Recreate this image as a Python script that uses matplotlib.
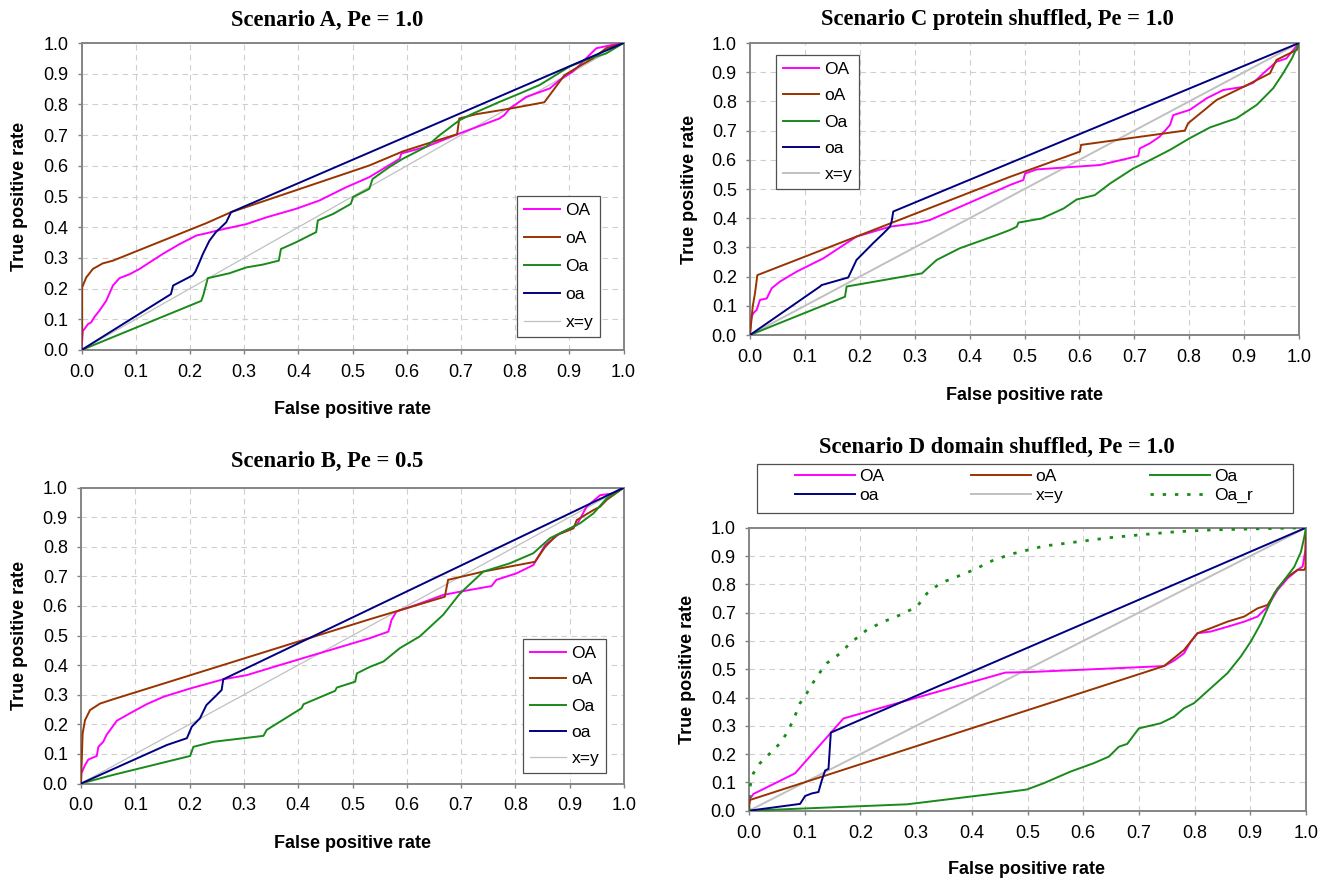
import matplotlib
matplotlib.use("Agg")
import matplotlib.pyplot as plt
from matplotlib.patches import Rectangle

# ---------------- data ----------------
A_OA_x = [0, 0.000, 0.0025, 0.0074, 0.0117, 0.0178, 0.024, 0.033, 0.0455, 0.058, 0.070, 0.089, 0.107, 0.150, 0.181, 0.212, 0.230, 0.255, 0.304, 0.341, 0.396, 0.439, 0.488, 0.531, 0.587, 0.590, 0.636, 0.697, 0.771, 0.780, 0.790, 0.820, 0.864, 0.882, 0.906, 0.919, 0.931, 0.950, 0.980, 1.0]
A_OA_y = [0, 0.002, 0.062, 0.073, 0.084, 0.090, 0.108, 0.128, 0.160, 0.210, 0.234, 0.247, 0.264, 0.313, 0.345, 0.373, 0.380, 0.391, 0.410, 0.432, 0.460, 0.487, 0.530, 0.563, 0.623, 0.640, 0.662, 0.705, 0.754, 0.765, 0.786, 0.824, 0.852, 0.879, 0.906, 0.928, 0.950, 0.983, 0.994, 1.0]
A_oA_x = [0, 0.0005, 0.0012, 0.0012, 0.0086, 0.021, 0.039, 0.058, 0.230, 0.276, 0.531, 0.593, 0.648, 0.693, 0.697, 0.728, 0.790, 0.854, 0.891, 0.922, 0.944, 0.968, 1.0]
A_oA_y = [0, 0.03, 0.062, 0.204, 0.236, 0.264, 0.282, 0.291, 0.413, 0.449, 0.601, 0.647, 0.678, 0.703, 0.754, 0.768, 0.786, 0.807, 0.895, 0.928, 0.950, 0.983, 1.0]
A_Oa_x = [0, 0.221, 0.225, 0.233, 0.273, 0.304, 0.334, 0.364, 0.368, 0.396, 0.433, 0.436, 0.464, 0.497, 0.501, 0.531, 0.534, 0.537, 0.568, 0.593, 0.636, 0.661, 0.697, 0.722, 0.771, 0.808, 0.845, 0.870, 0.900, 0.931, 0.968, 1.0]
A_Oa_y = [0, 0.160, 0.180, 0.234, 0.250, 0.269, 0.278, 0.291, 0.329, 0.351, 0.384, 0.422, 0.443, 0.476, 0.498, 0.525, 0.541, 0.557, 0.596, 0.623, 0.662, 0.700, 0.748, 0.770, 0.808, 0.835, 0.863, 0.890, 0.923, 0.945, 0.966, 1.0]
A_oa_x = [0, 0.165, 0.169, 0.205, 0.210, 0.216, 0.224, 0.236, 0.248, 0.267, 0.276, 1.0]
A_oa_y = [0, 0.182, 0.210, 0.243, 0.255, 0.279, 0.313, 0.356, 0.384, 0.416, 0.449, 1.0]

B_OA_x = [0, 0.0005, 0.0074, 0.0135, 0.029, 0.032, 0.041, 0.047, 0.066, 0.090, 0.121, 0.152, 0.201, 0.262, 0.305, 0.366, 0.428, 0.532, 0.566, 0.572, 0.581, 0.618, 0.667, 0.698, 0.756, 0.765, 0.802, 0.833, 0.855, 0.882, 0.913, 0.931, 0.956, 0.980, 1.0]
B_OA_y = [0, 0.034, 0.062, 0.081, 0.093, 0.124, 0.141, 0.164, 0.212, 0.237, 0.268, 0.293, 0.321, 0.352, 0.366, 0.400, 0.434, 0.491, 0.513, 0.553, 0.581, 0.604, 0.637, 0.648, 0.667, 0.688, 0.710, 0.738, 0.806, 0.845, 0.873, 0.935, 0.974, 0.980, 1.0]
B_oA_x = [0, 0.001, 0.003, 0.0074, 0.0166, 0.035, 0.060, 0.532, 0.670, 0.676, 0.741, 0.836, 0.855, 0.876, 0.907, 0.913, 0.944, 0.956, 0.968, 1.0]
B_oA_y = [0, 0.057, 0.169, 0.214, 0.248, 0.270, 0.285, 0.555, 0.631, 0.688, 0.716, 0.749, 0.800, 0.839, 0.862, 0.890, 0.924, 0.935, 0.958, 1.0]
B_Oa_x = [0, 0.059, 0.201, 0.207, 0.244, 0.336, 0.342, 0.406, 0.410, 0.468, 0.471, 0.505, 0.508, 0.532, 0.557, 0.587, 0.624, 0.667, 0.698, 0.741, 0.790, 0.833, 0.864, 0.895, 0.919, 0.944, 0.968, 1.0]
B_Oa_y = [0, 0.029, 0.093, 0.124, 0.141, 0.161, 0.181, 0.254, 0.268, 0.313, 0.324, 0.344, 0.372, 0.394, 0.412, 0.457, 0.497, 0.570, 0.642, 0.716, 0.744, 0.778, 0.829, 0.857, 0.879, 0.913, 0.963, 1.0]
B_oa_x = [0, 0.158, 0.195, 0.204, 0.219, 0.231, 0.250, 0.259, 0.262, 1.0]
B_oa_y = [0, 0.130, 0.153, 0.192, 0.220, 0.265, 0.299, 0.316, 0.352, 1.0]

C_OA_x = [0, 0.0012, 0.003, 0.0061, 0.0121, 0.0182, 0.0304, 0.0395, 0.0546, 0.085, 0.134, 0.194, 0.255, 0.304, 0.328, 0.474, 0.498, 0.501, 0.522, 0.637, 0.707, 0.710, 0.728, 0.746, 0.765, 0.771, 0.801, 0.832, 0.862, 0.899, 0.917, 0.935, 0.959, 0.977, 1.0]
C_OA_y = [0, 0.041, 0.063, 0.075, 0.086, 0.120, 0.125, 0.160, 0.183, 0.217, 0.263, 0.337, 0.371, 0.383, 0.394, 0.514, 0.531, 0.553, 0.567, 0.582, 0.613, 0.639, 0.656, 0.679, 0.719, 0.753, 0.771, 0.811, 0.839, 0.850, 0.864, 0.896, 0.936, 0.947, 1.0]
C_oA_x = [0, 0.0049, 0.0091, 0.0134, 0.474, 0.601, 0.603, 0.792, 0.798, 0.850, 0.899, 0.947, 0.959, 0.977, 0.996, 1.0]
C_oA_y = [0, 0.097, 0.143, 0.205, 0.542, 0.628, 0.651, 0.700, 0.725, 0.805, 0.850, 0.896, 0.942, 0.959, 0.976, 1.0]
C_Oa_x = [0, 0.173, 0.176, 0.313, 0.340, 0.382, 0.449, 0.474, 0.486, 0.489, 0.531, 0.571, 0.595, 0.628, 0.656, 0.698, 0.735, 0.765, 0.801, 0.838, 0.886, 0.923, 0.953, 0.971, 0.987, 1.0]
C_Oa_y = [0, 0.131, 0.166, 0.211, 0.257, 0.297, 0.342, 0.360, 0.371, 0.385, 0.399, 0.433, 0.464, 0.479, 0.519, 0.570, 0.605, 0.634, 0.674, 0.711, 0.742, 0.788, 0.845, 0.896, 0.947, 1.0]
C_oa_x = [0, 0.1275, 0.1305, 0.179, 0.194, 0.212, 0.224, 0.243, 0.255, 0.258, 0.261, 1.0]
C_oa_y = [0, 0.166, 0.171, 0.197, 0.257, 0.291, 0.314, 0.348, 0.371, 0.389, 0.423, 1.0]

D_OA_x = [0, 0.0005, 0.0078, 0.0827, 0.1696, 0.460, 0.505, 0.745, 0.763, 0.781, 0.793, 0.805, 0.829, 0.859, 0.889, 0.913, 0.931, 0.949, 0.967, 0.985, 0.994, 0.999, 1.0]
D_OA_y = [0, 0.038, 0.059, 0.132, 0.326, 0.488, 0.490, 0.511, 0.530, 0.556, 0.597, 0.627, 0.633, 0.650, 0.668, 0.686, 0.721, 0.780, 0.821, 0.851, 0.863, 0.922, 1.0]
D_oA_x = [0, 0.0005, 0.0018, 0.745, 0.781, 0.805, 0.829, 0.859, 0.889, 0.913, 0.931, 0.949, 0.967, 0.985, 0.997, 0.999, 1.0]
D_oA_y = [0, 0.020, 0.038, 0.511, 0.568, 0.627, 0.645, 0.668, 0.686, 0.715, 0.727, 0.786, 0.827, 0.851, 0.851, 0.860, 1.0]
D_Oa_x = [0, 0.284, 0.469, 0.499, 0.529, 0.577, 0.619, 0.646, 0.664, 0.679, 0.700, 0.739, 0.763, 0.781, 0.799, 0.829, 0.859, 0.883, 0.901, 0.919, 0.931, 0.943, 0.961, 0.979, 0.991, 0.997, 1.0]
D_Oa_y = [0, 0.0226, 0.067, 0.075, 0.097, 0.138, 0.168, 0.191, 0.226, 0.236, 0.291, 0.309, 0.332, 0.362, 0.380, 0.433, 0.486, 0.545, 0.598, 0.662, 0.715, 0.768, 0.815, 0.862, 0.915, 0.968, 1.0]
D_oa_x = [0, 0.0917, 0.1007, 0.1127, 0.1247, 0.1307, 0.1367, 0.1427, 0.1469, 1.0]
D_oa_y = [0, 0.024, 0.052, 0.061, 0.066, 0.107, 0.142, 0.148, 0.276, 1.0]
D_Oar_x = [0, 0.0018, 0.0078, 0.0198, 0.0318, 0.0438, 0.0558, 0.0678, 0.0797, 0.0917, 0.1037, 0.1217, 0.1397, 0.1637, 0.1817, 0.2116, 0.2416, 0.2716, 0.3016, 0.3196, 0.3435, 0.3735, 0.4035, 0.4394, 0.4754, 0.529, 0.589, 0.649, 0.709, 0.769, 0.829, 0.889, 1.0]
D_Oar_y = [0, 0.085, 0.132, 0.168, 0.191, 0.215, 0.238, 0.274, 0.321, 0.380, 0.415, 0.474, 0.521, 0.556, 0.592, 0.639, 0.668, 0.692, 0.721, 0.768, 0.804, 0.827, 0.851, 0.886, 0.909, 0.935, 0.950, 0.965, 0.976, 0.986, 0.992, 0.995, 1.0]

diag = [0.0, 1.0]
ticks = [i / 10 for i in range(11)]
tick_labels = [f"{t:.1f}" for t in ticks]

titles = ["Scenario A, Pe = 1.0", "Scenario C protein shuffled, Pe = 1.0",
          "Scenario B, Pe = 0.5", "Scenario D domain shuffled, Pe = 1.0"]
series_names = ["OA", "oA", "Oa", "oa", "x=y", "Oa_r"]

# ---------------- styles ----------------
COL = {"OA": "#FF00FF", "oA": "#993300", "Oa": "#1A8A1A", "oa": "#000080",
       "x=y": "#C0C0C0"}
SANS = "Liberation Sans"
SERIF = "Liberation Serif"
W, H = 1331, 885

fig = plt.figure(figsize=(W / 100, H / 100), dpi=100)
fig.patch.set_facecolor("white")


def px_axes(x0, y0, x1, y1):
    return fig.add_axes([x0 / W, 1 - y1 / H, (x1 - x0) / W, (y1 - y0) / H])


def style_axes(ax):
    ax.set_xlim(0, 1)
    ax.set_ylim(0, 1)
    ax.set_xticks(ticks)
    ax.set_yticks(ticks)
    ax.set_xticklabels(tick_labels, fontfamily=SANS, fontsize=13)
    ax.set_yticklabels(tick_labels, fontfamily=SANS, fontsize=13)
    ax.tick_params(axis="x", direction="out", length=3, width=1, color="#808080", pad=7)
    ax.tick_params(axis="y", direction="out", length=3, width=1, color="#808080", pad=6.5)
    ax.grid(True, color="#CFCFCF", linestyle=(0, (5, 4)), linewidth=0.8)
    ax.set_axisbelow(True)
    for s in ax.spines.values():
        s.set_color("#858585")
        s.set_linewidth(1.4)


def draw(ax, data, diag_lw):
    ax.plot(diag, diag, color=COL["x=y"], lw=diag_lw, label="x=y", zorder=2)
    hs = {}
    for name, (xs, ys) in data.items():
        hs[name], = ax.plot(xs, ys, color=COL[name], lw=1.4, label=name, zorder=3)
    hs["x=y"] = ax.lines[0]
    return hs


def ftext(x, y, s, **kw):
    fig.text(x / W, 1 - y / H, s, **kw)


leg_kw = dict(prop={"family": SANS, "size": 12.5}, handlelength=2.1, handletextpad=0.3,
              borderpad=0.4, fancybox=False, framealpha=1, edgecolor="#505050",
              borderaxespad=0, loc="upper left")

# Panel A
axA = px_axes(81.5, 43, 623.5, 350)
style_axes(axA)
hA = draw(axA, {"OA": (A_OA_x, A_OA_y), "oA": (A_oA_x, A_oA_y),
                "Oa": (A_Oa_x, A_Oa_y), "oa": (A_oa_x, A_oa_y)}, 0.9)
lg = axA.legend([hA[n] for n in series_names[:5]], series_names[:5],
                bbox_to_anchor=(517 / W, 1 - 196 / H), bbox_transform=fig.transFigure,
                labelspacing=0.74, **leg_kw)
lg.get_frame().set_linewidth(0.9)

# Panel C
axC = px_axes(750, 43, 1299, 335)
style_axes(axC)
hC = draw(axC, {"OA": (C_OA_x, C_OA_y), "oA": (C_oA_x, C_oA_y),
                "Oa": (C_Oa_x, C_Oa_y), "oa": (C_oa_x, C_oa_y)}, 1.4)
lg = axC.legend([hC[n] for n in series_names[:5]], series_names[:5],
                bbox_to_anchor=(776 / W, 1 - 55 / H), bbox_transform=fig.transFigure,
                labelspacing=0.64, **leg_kw)
lg.get_frame().set_linewidth(0.9)

# Panel B
axB = px_axes(81, 487.5, 624, 783.5)
style_axes(axB)
hB = draw(axB, {"OA": (B_OA_x, B_OA_y), "oA": (B_oA_x, B_oA_y),
                "Oa": (B_Oa_x, B_Oa_y), "oa": (B_oa_x, B_oa_y)}, 0.9)
lg = axB.legend([hB[n] for n in series_names[:5]], series_names[:5],
                bbox_to_anchor=(523 / W, 1 - 639 / H), bbox_transform=fig.transFigure,
                labelspacing=0.64, **leg_kw)
lg.get_frame().set_linewidth(0.9)

# Panel D
axD = px_axes(749, 527.7, 1306, 810.7)
style_axes(axD)
hD = draw(axD, {"OA": (D_OA_x, D_OA_y), "oA": (D_oA_x, D_oA_y),
                "Oa": (D_Oa_x, D_Oa_y), "oa": (D_oa_x, D_oa_y)}, 1.4)
hD["Oa_r"], = axD.plot(D_Oar_x, D_Oar_y, color=COL["Oa"], lw=2.0,
                       linestyle=(0, (1.2, 3.2)), label="Oa_r", zorder=3)
order = ["OA", "oa", "oA", "x=y", "Oa", "Oa_r"]
lgD = axD.legend([hD[n] for n in order], order, ncol=3,
                 prop={"family": SANS, "size": 12.5}, handlelength=3.45,
                 handletextpad=0.25, columnspacing=5.0, labelspacing=0.22,
                 borderpad=0, frameon=False, loc="upper left", borderaxespad=0,
                 bbox_to_anchor=(795 / W, 1 - 469 / H), bbox_transform=fig.transFigure)
fig.add_artist(Rectangle((757 / W, 1 - 513 / H), 536 / W, 49 / H, transform=fig.transFigure,
                         fill=False, edgecolor="#505050", lw=0.9))

# Titles
tkw = dict(fontfamily=SERIF, fontweight="bold", fontsize=16.3, ha="center", va="center")
ftext(327, 20, titles[0], **tkw)
ftext(997, 20, titles[1], **tkw)
ftext(327, 461, titles[2], **tkw)
ftext(997, 447, titles[3], **tkw)

# Axis labels
lkw = dict(fontfamily=SANS, fontweight="bold", fontsize=13, ha="center", va="center")
ftext(352, 410, "False positive rate", **lkw)
ftext(1024, 395, "False positive rate", **lkw)
ftext(352, 843, "False positive rate", **lkw)
ftext(1027, 870, "False positive rate", **lkw)
ftext(20, 196, "True positive rate", rotation=90, **lkw)
ftext(690, 189, "True positive rate", rotation=90, **lkw)
ftext(20, 635, "True positive rate", rotation=90, **lkw)
ftext(688, 669, "True positive rate", rotation=90, **lkw)

fig.savefig("out.png", dpi=100, facecolor="white")
